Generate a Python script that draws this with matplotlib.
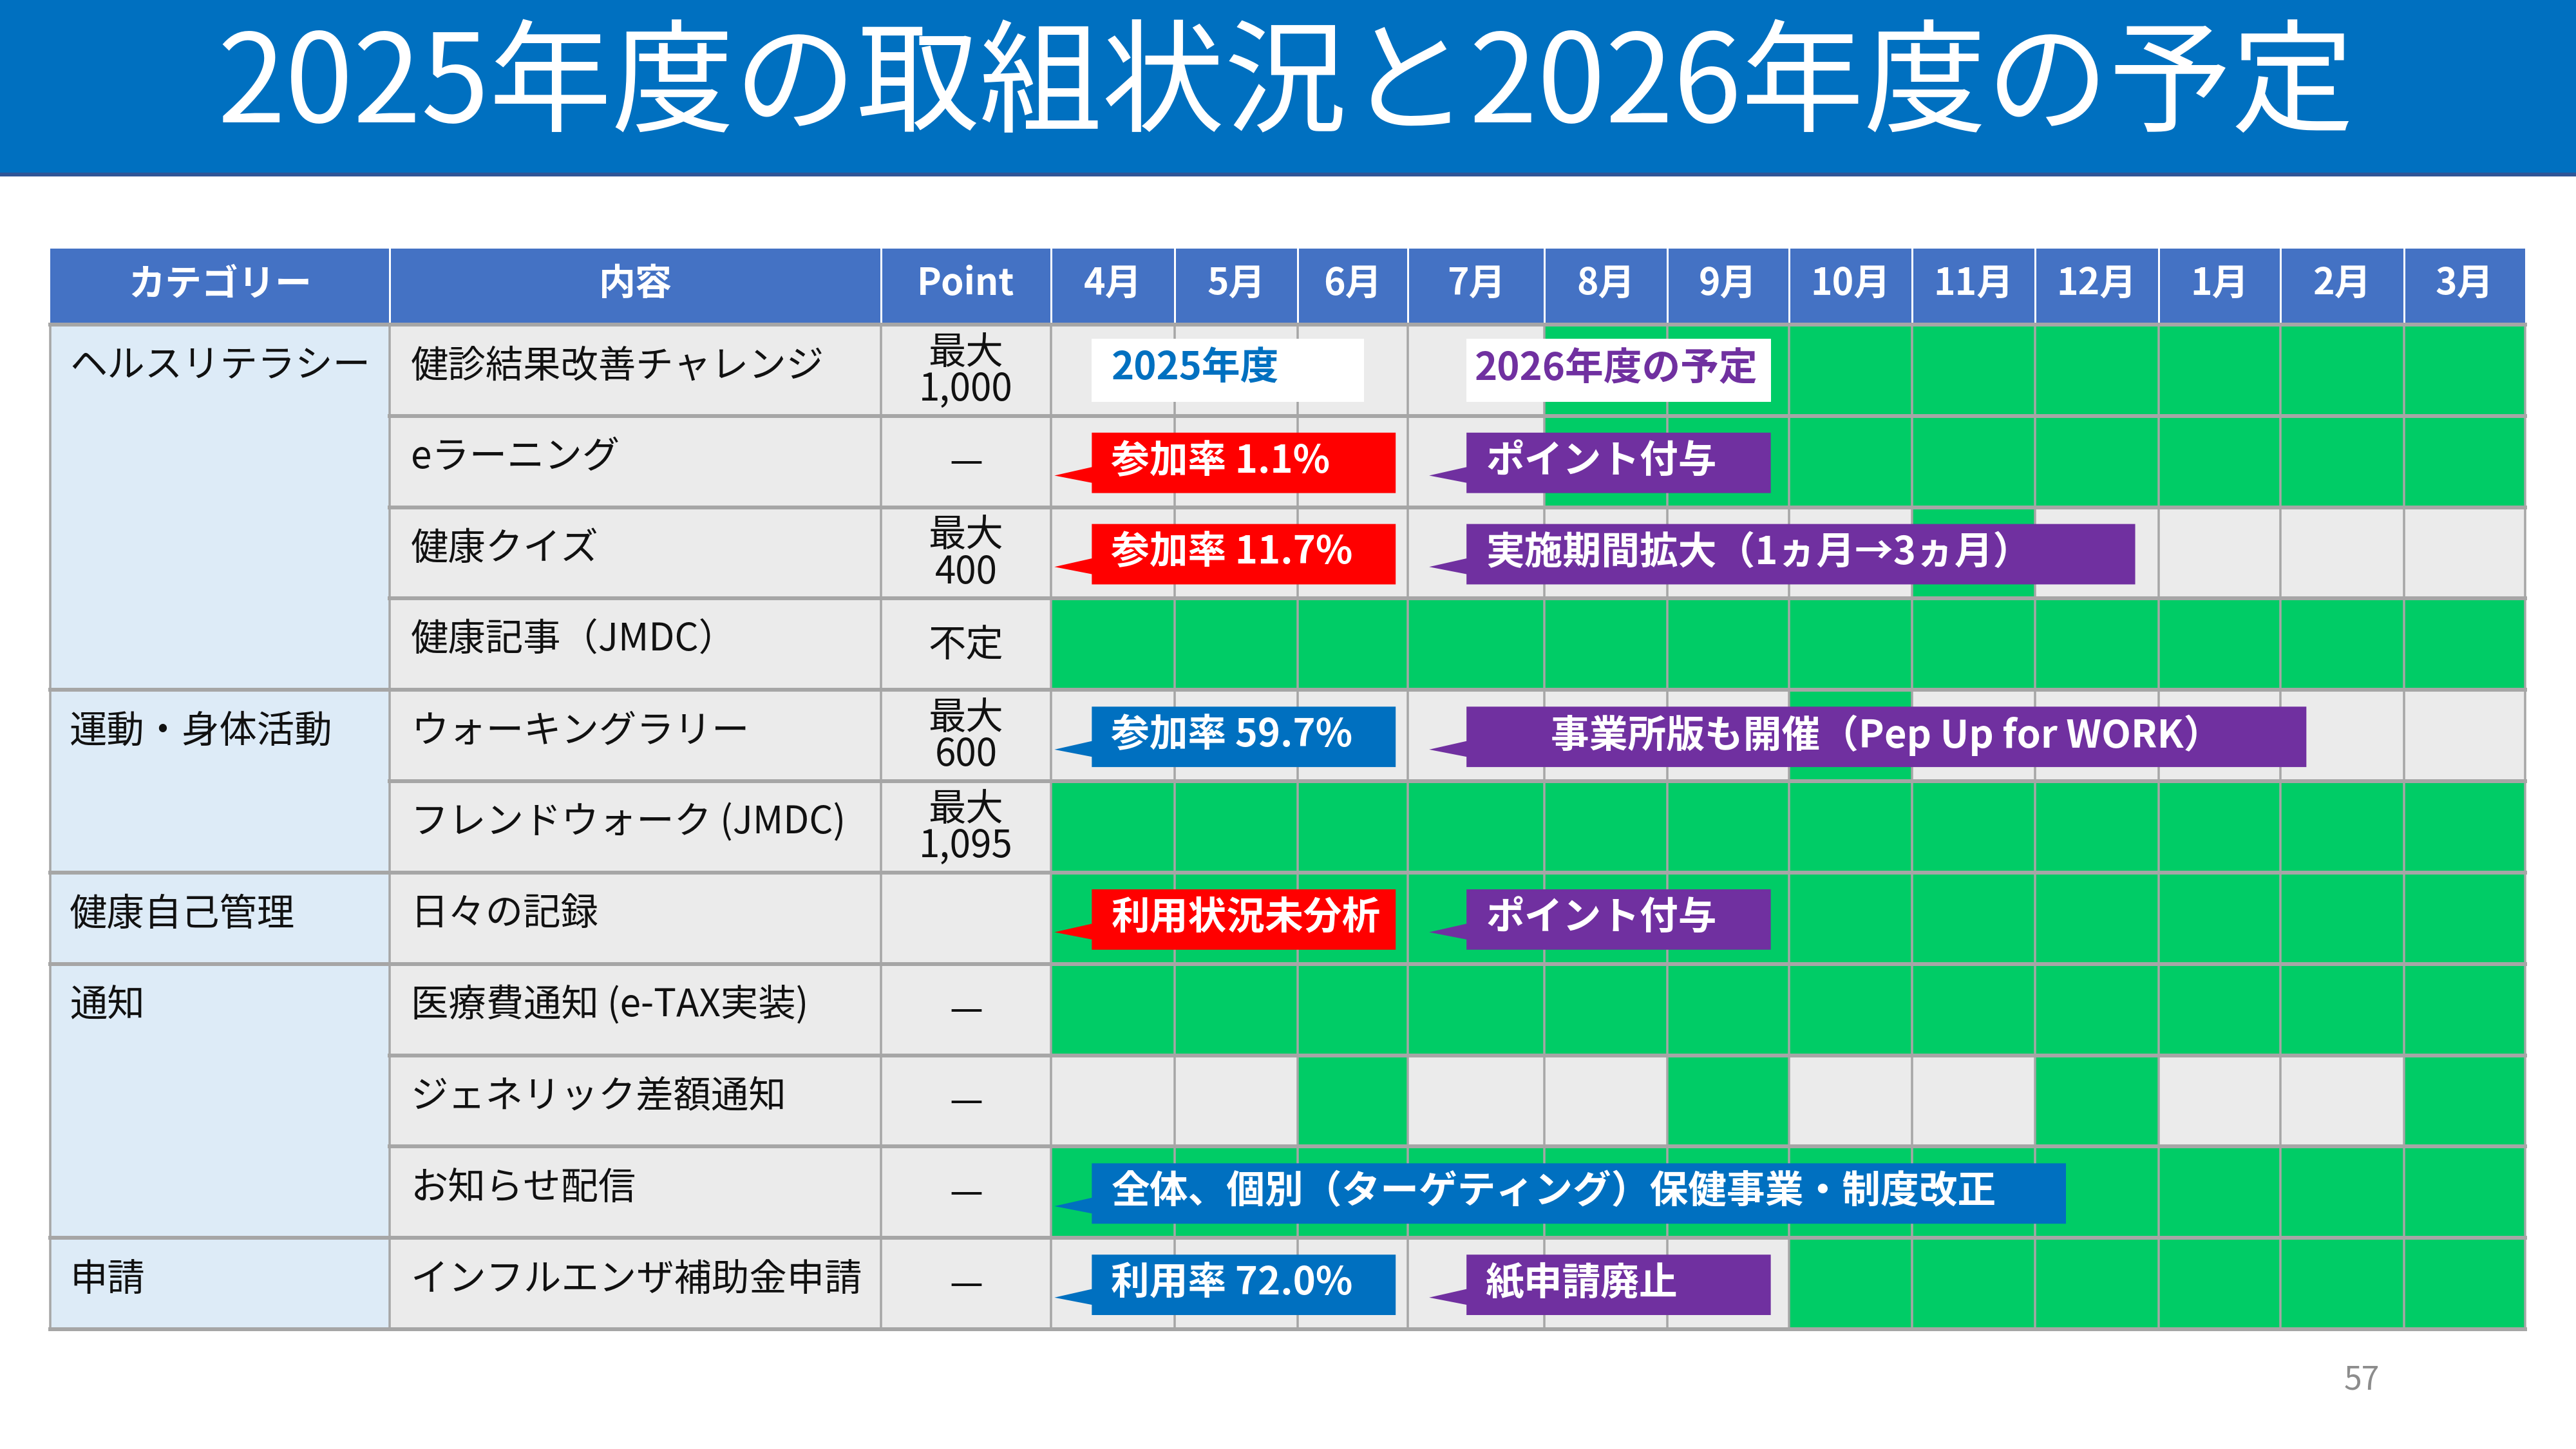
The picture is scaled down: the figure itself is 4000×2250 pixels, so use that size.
import numpy as np
import matplotlib.pyplot as plt
from matplotlib.patches import Rectangle, Polygon

plt.rcParams['font.family'] = ['Noto Sans CJK JP', 'DejaVu Sans']

# --- data ---
title = '2025年度の取組状況と2026年度の予定'
header_labels = ['カテゴリー', '内容', 'Point']
months = ['4月', '5月', '6月', '7月', '8月', '9月', '10月', '11月', '12月', '1月', '2月', '3月']

category_names = ['ヘルスリテラシー', '運動・身体活動', '健康自己管理', '通知', '申請']
category_spans = [4, 2, 1, 3, 1]

items = ['健診結果改善チャレンジ', 'eラーニング', '健康クイズ', '健康記事（JMDC）',
         'ウォーキングラリー', 'フレンドウォーク (JMDC)', '日々の記録',
         '医療費通知 (e-TAX実装)', 'ジェネリック差額通知', 'お知らせ配信', 'インフルエンザ補助金申請']
points = ['最大\n1,000', '—', '最大\n400', '不定', '最大\n600', '最大\n1,095', '',
          '—', '—', '—', '—']

# 1 = 実施月 (green), 0 = なし
status = [
    [0, 0, 0, 0, 1, 1, 1, 1, 1, 1, 1, 1],
    [0, 0, 0, 0, 1, 1, 1, 1, 1, 1, 1, 1],
    [0, 0, 0, 0, 0, 0, 0, 1, 0, 0, 0, 0],
    [1, 1, 1, 1, 1, 1, 1, 1, 1, 1, 1, 1],
    [0, 0, 0, 0, 0, 0, 1, 0, 0, 0, 0, 0],
    [1, 1, 1, 1, 1, 1, 1, 1, 1, 1, 1, 1],
    [1, 1, 1, 1, 1, 1, 1, 1, 1, 1, 1, 1],
    [1, 1, 1, 1, 1, 1, 1, 1, 1, 1, 1, 1],
    [0, 0, 1, 0, 0, 1, 0, 0, 1, 0, 0, 1],
    [1, 1, 1, 1, 1, 1, 1, 1, 1, 1, 1, 1],
    [0, 0, 0, 0, 0, 0, 1, 1, 1, 1, 1, 1],
]

# labels on the schedule: row, text, kind, start/end in month units
label_rows = [0, 0, 1, 1, 2, 2, 4, 4, 6, 6, 9, 10, 10]
label_texts = ['2025年度', '2026年度の予定',
               '参加率 1.1%', 'ポイント付与',
               '参加率 11.7%', '実施期間拡大（1ヵ月→3ヵ月）',
               '参加率 59.7%', '事業所版も開催（Pep Up for WORK）',
               '利用状況未分析', 'ポイント付与',
               '全体、個別（ターゲティング）保健事業・制度改正',
               '利用率 72.0%', '紙申請廃止']
label_kinds = ['year25', 'year26', 'low', 'plan', 'low', 'plan', 'good', 'plan',
               'low', 'plan', 'good', 'good', 'plan']
label_start = [0.33, 3.43, 0.33, 3.43, 0.33, 3.43, 0.33, 3.43, 0.33, 3.43, 0.33, 0.33, 3.43]
label_end = [2.6, 5.85, 2.89, 5.85, 2.89, 8.81, 2.89, 10.21, 2.89, 5.85, 8.25, 2.89, 5.85]

# --- layout / style ---
W, H = 4000, 2250
px = 72 / 100  # points per pixel
fixed_edges = [78, 605, 1368, 1632]
month_edges = [1632, 1824, 2015, 2186, 2398, 2589, 2778, 2969, 3160, 3352, 3541, 3733, 3921]
head_top, head_bot, table_bot = 386, 504, 2064
n_rows = len(items)
row_edges = np.linspace(head_bot, table_bot, n_rows + 1)

blue_head = '#4472C4'
cell_grey = '#EBEBEB'
cat_blue = '#DDEBF7'
green = '#00CC66'
line_grey = '#A6A6A6'
kind_face = {'year25': 'white', 'year26': 'white', 'low': '#FF0000',
             'good': '#0070C0', 'plan': '#7030A0'}
kind_text = {'year25': '#0070C0', 'year26': '#7030A0', 'low': 'white',
             'good': 'white', 'plan': 'white'}

fig = plt.figure(figsize=(40, 22.5), dpi=100)
ax = fig.add_axes([0, 0, 1, 1])
ax.set_xlim(0, W)
ax.set_ylim(H, 0)
ax.axis('off')

# title band
ax.add_patch(Rectangle((0, 0), W, 272, facecolor='#0070C0', edgecolor='none'))
ax.plot([0, W], [271, 271], color='#2F5597', lw=6 * px)
ax.text(W / 2 - 4, 136, title, color='white', fontsize=137, ha='center', va='center')

# header
all_edges = fixed_edges + month_edges[1:]
ax.add_patch(Rectangle((all_edges[0], head_top), all_edges[-1] - all_edges[0],
                       head_bot - head_top, facecolor=blue_head, edgecolor='none'))
head_texts = header_labels + months
for i, t in enumerate(head_texts):
    xc = (all_edges[i] + all_edges[i + 1]) / 2
    ax.text(xc, (head_top + head_bot) / 2 - 4, t, color='white', fontsize=41,
            fontweight='bold', ha='center', va='center')
for x in all_edges[1:-1]:
    ax.plot([x, x], [head_top, head_bot], color='white', lw=3 * px)

# body cells
for r in range(n_rows):
    y0, y1 = row_edges[r], row_edges[r + 1]
    yc = (y0 + y1) / 2 - 6
    for c in (1, 2):
        ax.add_patch(Rectangle((fixed_edges[c], y0), fixed_edges[c + 1] - fixed_edges[c],
                               y1 - y0, facecolor=cell_grey, edgecolor='none'))
    for m in range(12):
        fc = green if status[r][m] else cell_grey
        ax.add_patch(Rectangle((month_edges[m], y0), month_edges[m + 1] - month_edges[m],
                               y1 - y0, facecolor=fc, edgecolor='none'))
    ax.text(fixed_edges[1] + 33, yc, items[r], fontsize=42, ha='left', va='center',
            color='#111111')
    ax.text((fixed_edges[2] + fixed_edges[3]) / 2, yc + 8, points[r], fontsize=42,
            ha='center', va='center', linespacing=0.92, color='#111111')

# category cells (merged)
start = 0
group_bounds = [0]
for name, span in zip(category_names, category_spans):
    y0, y1 = row_edges[start], row_edges[start + span]
    ax.add_patch(Rectangle((fixed_edges[0], y0), fixed_edges[1] - fixed_edges[0], y1 - y0,
                           facecolor=cat_blue, edgecolor='none'))
    ax.text(fixed_edges[0] + 30, (row_edges[start] + row_edges[start + 1]) / 2 - 6, name,
            fontsize=42, ha='left', va='center', color='#111111')
    start += span
    group_bounds.append(start)

# grid lines
for x in all_edges:
    ax.plot([x, x], [head_bot, table_bot], color=line_grey, lw=3.5 * px, zorder=3)
for r, y in enumerate(row_edges):
    x_from = all_edges[0] if r in group_bounds else fixed_edges[1]
    ax.plot([x_from, all_edges[-1]], [y, y], color=line_grey, lw=6 * px, zorder=3)

# schedule labels / callouts
tip_dx = 58
for r, txt, kind, s, e in zip(label_rows, label_texts, label_kinds, label_start, label_end):
    x0 = np.interp(s, np.arange(13), month_edges)
    x1 = np.interp(e, np.arange(13), month_edges)
    y0, y1 = row_edges[r], row_edges[r + 1]
    if kind.startswith('year'):
        bt, bb = y0 + 22, y1 - 22
        verts = [(x0, bt), (x1, bt), (x1, bb), (x0, bb)]
    else:
        bt, bb = y0 + 26, y1 - 22
        h = bb - bt
        verts = [(x0, bt), (x1, bt), (x1, bb), (x0, bb), (x0, bt + 0.83 * h),
                 (x0 - tip_dx, bt + 0.71 * h), (x0, bt + 0.57 * h)]
    ax.add_patch(Polygon(verts, closed=True, facecolor=kind_face[kind], edgecolor='none',
                         zorder=4))
    if 'Pep Up' in txt:
        tx, ha = (x0 + x1) / 2, 'center'
    elif kind == 'year26':
        tx, ha = x0 + 13, 'left'
    else:
        tx, ha = x0 + 30, 'left'
    ax.text(tx, (bt + bb) / 2 - 2, txt, color=kind_text[kind], fontsize=43,
            fontweight='bold', ha=ha, va='center', zorder=5)

# page number
ax.text(3667, 2143, '57', color='#8C8C8C', fontsize=36, ha='center', va='center')

fig.savefig('out.png', dpi=100, facecolor='white')
